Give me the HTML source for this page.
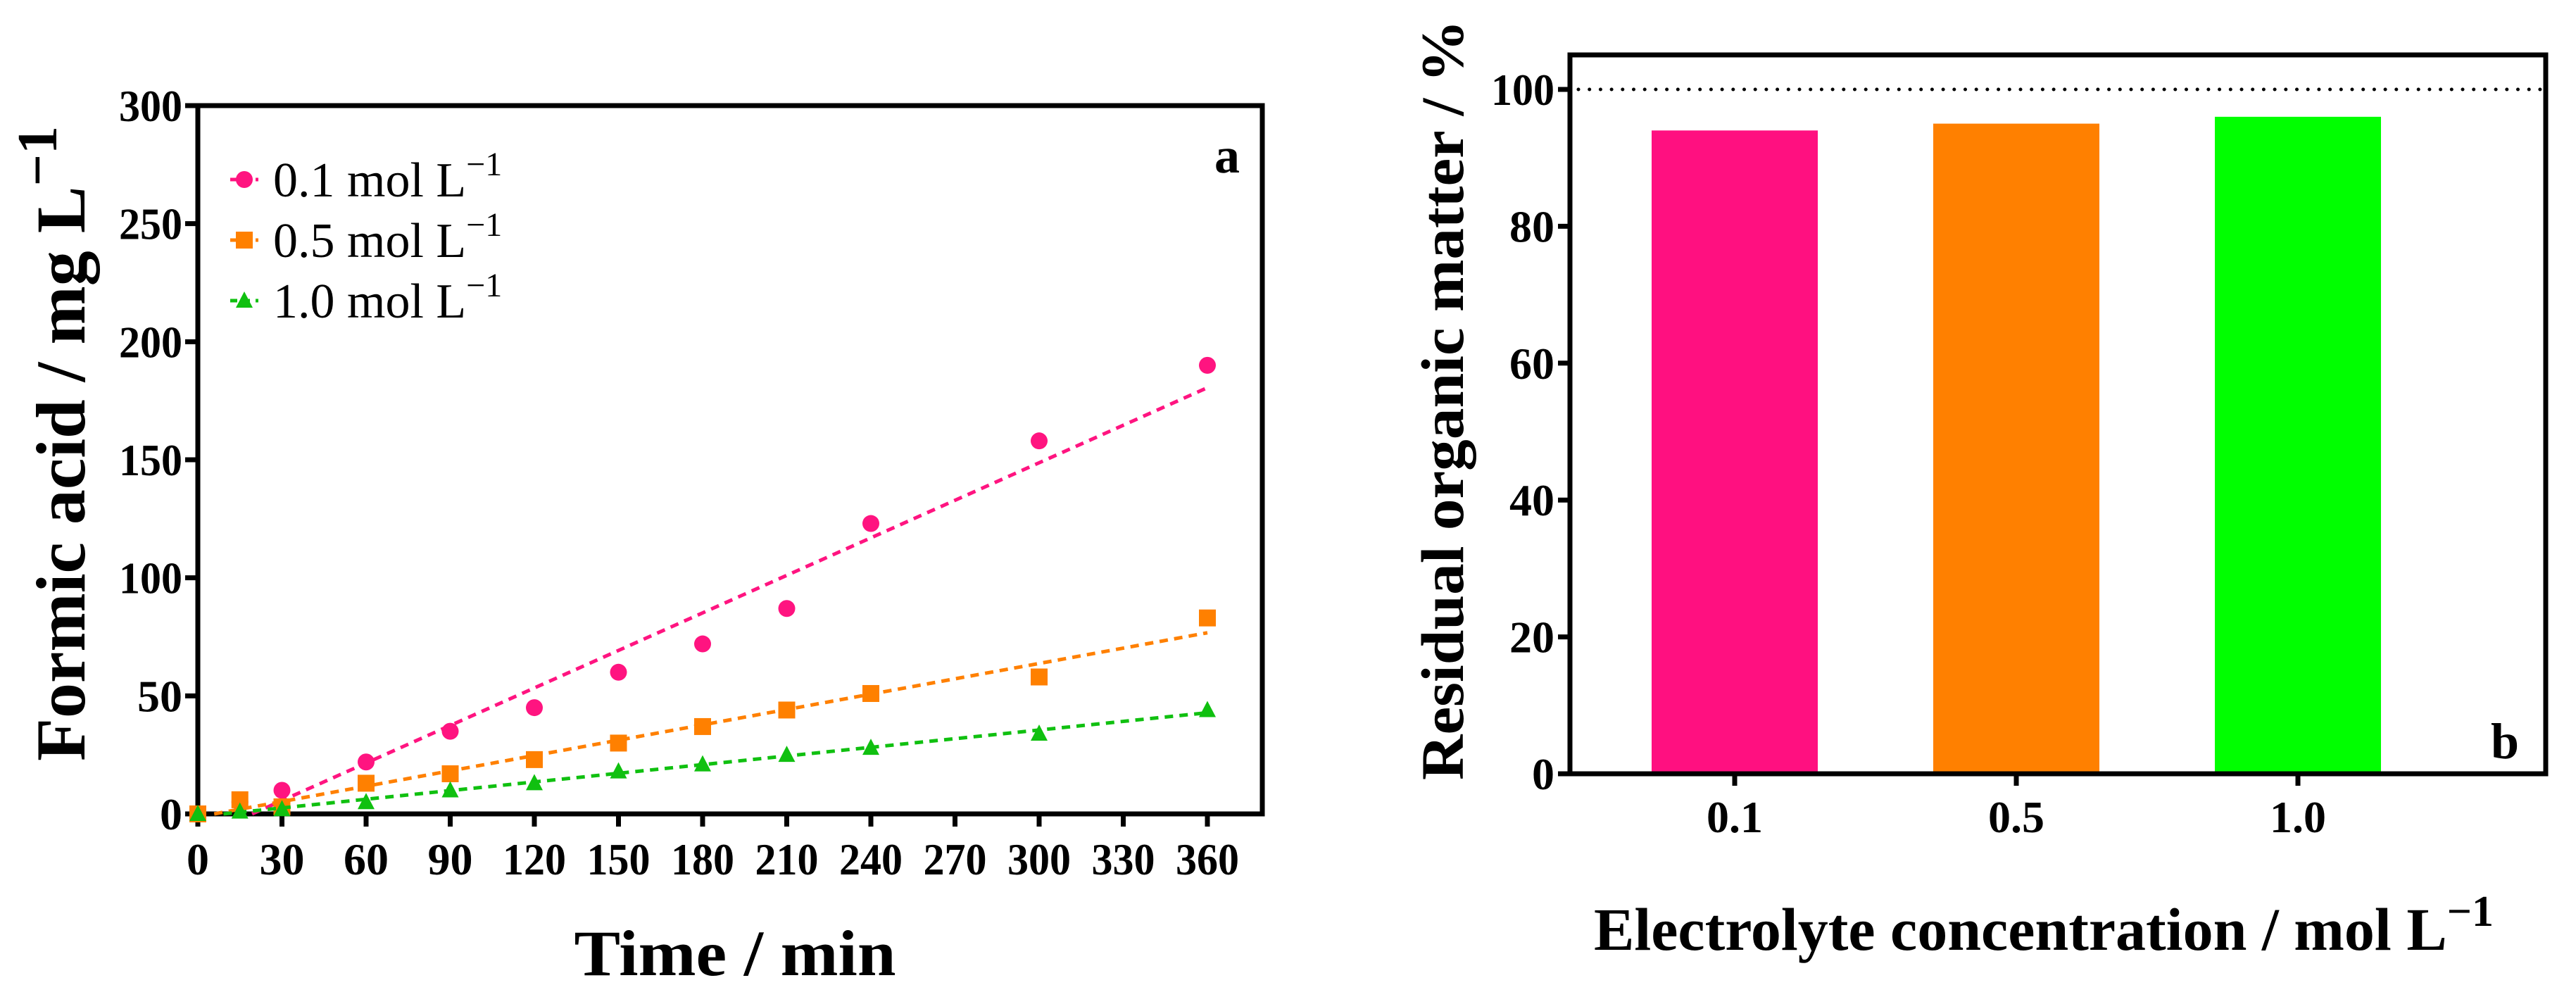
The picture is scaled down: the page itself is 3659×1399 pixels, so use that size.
<!DOCTYPE html>
<html><head><meta charset="utf-8"><style>
html,body{margin:0;padding:0;background:#fff;}
svg{display:block;font-family:"Liberation Serif",serif;}
</style></head><body>
<svg id="c" width="3659" height="1399" viewBox="0 0 3659 1399"></svg>
<script>
const times = [0,15,30,60,90,120,150,180,210,240,300,360];
const s01 = [0,5,10,22,35,45,60,72,87,123,158,190];
const s05 = [0,6,3,13,17,23,30,37,44,51,58,83];
const s10 = [0,1,2,5,10,13,18,21,25,28,34,44];
const xTicksA = [0,30,60,90,120,150,180,210,240,270,300,330,360];
const yTicksA = [0,50,100,150,200,250,300];
const barCats = ["0.1","0.5","1.0"];
const barVals = [94,95,96];
const yTicksB = [0,20,40,60,80,100];
const refLine = 100;

const NS="http://www.w3.org/2000/svg";
const svg=document.getElementById('c');
function el(tag,attrs,parent){const e=document.createElementNS(NS,tag);for(const k in attrs)e.setAttribute(k,attrs[k]);(parent||svg).appendChild(e);return e;}
function txt(s,attrs,parent){const e=el('text',attrs,parent);e.textContent=s;return e;}

// ---- Chart A
const A={l:281,r:1793,t:150,b:1156};
const xA=v=>A.l+v*(1715-281)/360;
const yA=v=>A.b-v*(A.b-A.t)/300;
const gA=el('g',{});


const frameA=el('rect',{x:A.l,y:A.t,width:A.r-A.l,height:A.b-A.t,fill:'none',stroke:'#000','stroke-width':7},gA);


xTicksA.forEach(v=>{
  const t=el('line',{x1:xA(v),x2:xA(v),y1:A.b,y2:A.b+18,stroke:'#000','stroke-width':7},gA);
  
  
  const l=txt(String(v),{x:xA(v),y:1242,'font-size':64,'font-weight':'bold','text-anchor':'middle'},gA);
  
  
  if(String(v).length===3){l.setAttribute('textLength',90);l.setAttribute('lengthAdjust','spacingAndGlyphs');}
});
yTicksA.forEach(v=>{
  const t=el('line',{x1:A.l-18,x2:A.l,y1:yA(v),y2:yA(v),stroke:'#000','stroke-width':7},gA);
  
  
  const l=txt(String(v),{x:A.l-22,y:yA(v)+22,'font-size':64,'font-weight':'bold','text-anchor':'end'},gA);
  
  
  if(String(v).length===3){l.setAttribute('textLength',90);l.setAttribute('lengthAdjust','spacingAndGlyphs');}
});
const series=[{d:s01,c:'#ff1480',m:'circle',n:'0.1'},{d:s05,c:'#ff8000',m:'square',n:'0.5'},{d:s10,c:'#10c010',m:'triangle',n:'1.0'}];
function fit(d){const n=times.length;let sx=0,sy=0,sxx=0,sxy=0;for(let i=0;i<n;i++){sx+=times[i];sy+=d[i];sxx+=times[i]*times[i];sxy+=times[i]*d[i];}const m=(n*sxy-sx*sy)/(n*sxx-sx*sx);return{m,b:(sy-m*sx)/n};}
series.forEach((s,si)=>{
  const f=fit(s.d);
  let x0=Math.max(0,f.b<0?-f.b/f.m:0);
  const ln=el('line',{x1:xA(x0),y1:yA(f.m*x0+f.b),x2:xA(360),y2:yA(f.m*360+f.b),stroke:s.c,'stroke-width':5,'stroke-dasharray':'12 9'},gA);
  
  
  s.d.forEach((v,i)=>{
    const cx=xA(times[i]),cy=yA(v);let p;
    if(s.m==='circle')p=el('circle',{cx,cy,r:12,fill:s.c},gA);
    else if(s.m==='square')p=el('rect',{x:cx-12,y:cy-12,width:24,height:24,fill:s.c},gA);
    else p=el('polygon',{points:`${cx},${cy-13} ${cx-12},${cy+10} ${cx+12},${cy+10}`,fill:s.c},gA);
    
    
  });
  const ly=255+si*86;
  const lg=el('g',{},gA);
  
  
  el('line',{x1:327,x2:367,y1:ly,y2:ly,stroke:s.c,'stroke-width':5,'stroke-dasharray':'10 8'},lg);
  if(s.m==='circle')el('circle',{cx:347,cy:ly,r:12,fill:s.c},lg);
  else if(s.m==='square')el('rect',{x:335,y:ly-12,width:24,height:24,fill:s.c},lg);
  else el('polygon',{points:`347,${ly-13} 335,${ly+10} 359,${ly+10}`,fill:s.c},lg);
  const t=txt('',{x:388,y:ly+24,'font-size':70},lg);
  t.innerHTML=s.n+' mol L<tspan dy="-30" font-size="48">−1</tspan>';
});
const la=txt('a',{x:1725,y:245,'font-size':72,'font-weight':'bold'},gA);


const xtA=txt('Time / min',{x:1044,y:1385,'font-size':92,'font-weight':'bold','text-anchor':'middle',textLength:457,lengthAdjust:'spacingAndGlyphs'},gA);


const ytA=txt('',{x:0,y:0,'font-size':100,'font-weight':'bold','text-anchor':'middle',transform:'translate(120,630) rotate(-90)'},gA);
ytA.innerHTML='Formic acid / mg L<tspan dy="-40" font-size="80">−1</tspan>';



// ---- Chart B
const B={l:2230,r:3616,t:78,b:1099};
const yB=v=>B.b-v*(B.b-127)/100;
const xB=i=>2464+i*400;
const gB=el('g',{});


const cols=['#ff1080','#ff8000','#00ff00'];
barVals.forEach((v,i)=>{
  const r=el('rect',{x:xB(i)-118,y:yB(v),width:236,height:B.b-yB(v),fill:cols[i]},gB);
  
  
  const t=el('line',{x1:xB(i),x2:xB(i),y1:B.b,y2:B.b+17,stroke:'#000','stroke-width':7},gB);
  
  
  const l=txt(barCats[i],{x:xB(i),y:1182,'font-size':64,'font-weight':'bold','text-anchor':'middle'},gB);
  
  
});
const rl=el('line',{x1:B.l+12,x2:B.r-4,y1:yB(refLine),y2:yB(refLine),stroke:'#000','stroke-width':5,'stroke-dasharray':'0 15.7','stroke-linecap':'round'},gB);


const frameB=el('path',{d:`M${B.l},${B.b} L${B.l},${B.t} L${B.r},${B.t} L${B.r},${B.b} Z`,fill:'none',stroke:'#000','stroke-width':7},gB);


yTicksB.forEach(v=>{
  const t=el('line',{x1:B.l-17,x2:B.l,y1:yB(v),y2:yB(v),stroke:'#000','stroke-width':7},gB);
  
  
  const l=txt(String(v),{x:B.l-22,y:yB(v)+22,'font-size':64,'font-weight':'bold','text-anchor':'end'},gB);
  
  
  if(String(v).length===3){l.setAttribute('textLength',90);l.setAttribute('lengthAdjust','spacingAndGlyphs');}
});
const lb=txt('b',{x:3538,y:1077,'font-size':72,'font-weight':'bold'},gB);


const xtB=txt('',{x:2264,y:1349,'font-size':86,'font-weight':'bold'},gB);
xtB.innerHTML='Electrolyte concentration / mol L<tspan dy="-34" font-size="62">−1</tspan>';


const ytB=txt('Residual organic matter / %',{x:0,y:0,'font-size':86,'font-weight':'bold','text-anchor':'middle',textLength:1080,lengthAdjust:'spacingAndGlyphs',transform:'translate(2078,568) rotate(-90)'},gB);


</script>
</body></html>
